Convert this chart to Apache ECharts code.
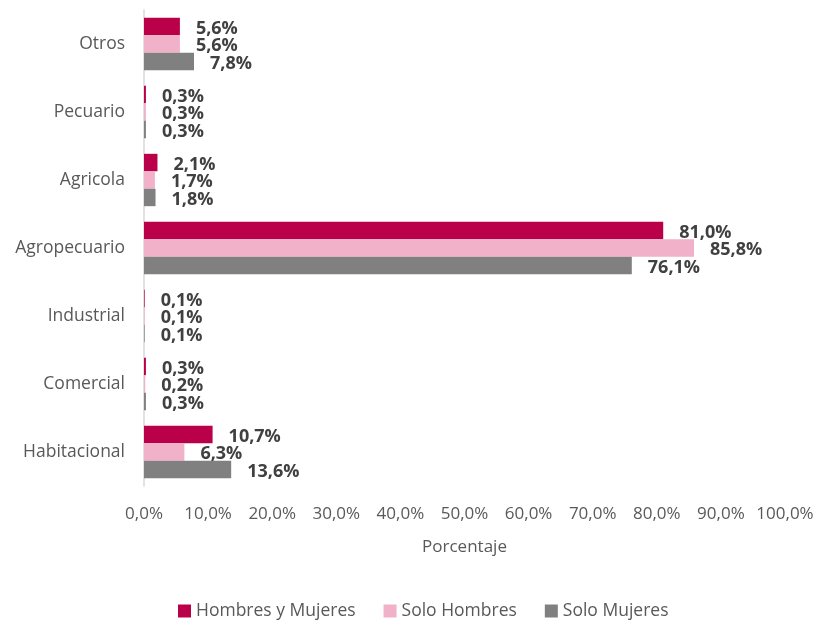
<!DOCTYPE html>
<html>
<head>
<meta charset="utf-8">
<script src="https://cdn.jsdelivr.net/npm/echarts@6/dist/echarts.min.js"></script>
<style>
html, body { margin: 0; padding: 0; background: #fff; }
#chart { width: 817px; height: 622px; }
</style>
</head>
<body>
<div id="chart"></div>
<script>
// categories listed top to bottom
var categories = ['Otros', 'Pecuario', 'Agricola', 'Agropecuario', 'Industrial', 'Comercial', 'Habitacional'];
var hombresYMujeres = [5.6, 0.3, 2.1, 81.0, 0.1, 0.3, 10.7];
var soloHombres = [5.6, 0.3, 1.7, 85.8, 0.1, 0.2, 6.3];
var soloMujeres = [7.8, 0.3, 1.8, 76.1, 0.1, 0.3, 13.6];
var seriesNames = ['Hombres y Mujeres', 'Solo Hombres', 'Solo Mujeres'];
var colors = ['#BA0049', '#F0B1C9', '#808080'];

var fmt = function (v) { return v.toFixed(1).replace('.', ',') + '%'; };
var font = '"Open Sans", "Noto Sans", sans-serif';

function makeSeries(name, data, color) {
	return {
		name : name,
		type : 'bar',
		data : data,
		barGap : '0%',
		barCategoryGap : '23%',
		itemStyle : { color : color },
		label : {
			show : true,
			position : 'right',
			distance : 16,
			offset : [0, 2],
			formatter : function (p) { return fmt(p.value); },
			color : '#404040',
			fontWeight : 'bold',
			fontSize : 18,
			fontFamily : font
		}
	};
}

var chart = echarts.init(document.getElementById('chart'));
chart.setOption({
	animation : false,
	textStyle : { fontFamily : font },
	color : colors,
	grid : { left : 144, right : 32, top : 10, bottom : 136 },
	legend : {
		data : seriesNames,
		top : 602,
		left : 178,
		padding : 0,
		itemWidth : 13,
		itemHeight : 13,
		itemGap : 28,
		icon : 'rect',
		textStyle : { color : '#595959', fontSize : 17.5, fontFamily : font }
	},
	xAxis : {
		type : 'value',
		min : 0,
		max : 100,
		interval : 10,
		name : 'Porcentaje',
		nameLocation : 'middle',
		nameGap : 53,
		nameTextStyle : { color : '#595959', fontSize : 17, fontFamily : font },
		axisLine : { show : false },
		axisTick : { show : false },
		splitLine : { show : false },
		axisLabel : {
			margin : 20,
			color : '#595959',
			fontSize : 17,
			fontFamily : font,
			formatter : function (v) { return fmt(v); }
		}
	},
	yAxis : {
		type : 'category',
		data : categories,
		inverse : true,
		axisLine : { show : true, lineStyle : { color : '#D9D9D9', width : 1.5 } },
		axisTick : { show : false },
		axisLabel : { margin : 19, color : '#595959', fontSize : 17.5, fontFamily : font }
	},
	series : [
		makeSeries(seriesNames[0], hombresYMujeres, colors[0]),
		makeSeries(seriesNames[1], soloHombres, colors[1]),
		makeSeries(seriesNames[2], soloMujeres, colors[2])
	]
});
</script>
</body>
</html>
